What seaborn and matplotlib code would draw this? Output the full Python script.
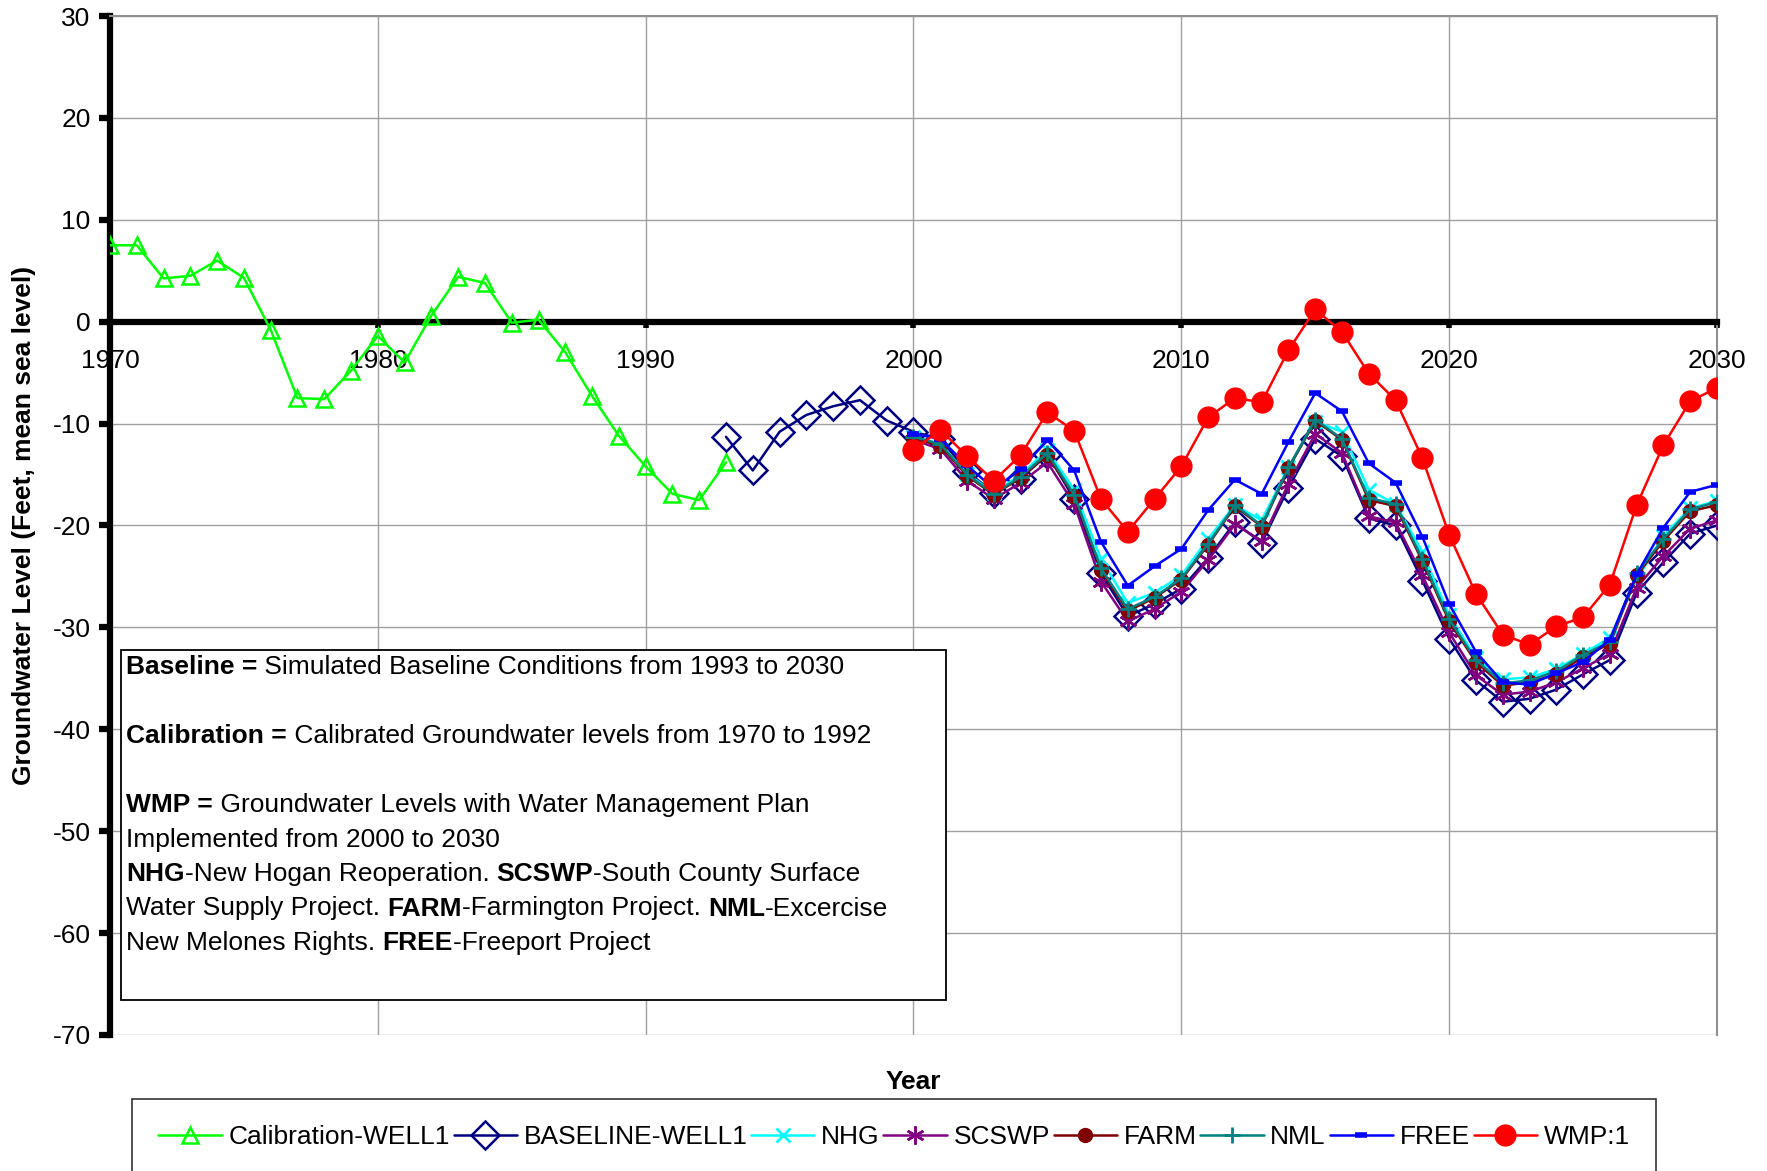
import matplotlib
matplotlib.use("Agg")
import pandas as pd
import matplotlib.pyplot as plt
import matplotlib.patches as mpatches
import seaborn as sns


# calibration period 1970-1993
cal_years = list(range(1970, 1994))
calibration = [7.5, 7.5, 4.25, 4.5, 6.0, 4.3, -0.8, -7.5, -7.6, -4.8, -1.4, -4.0,
               0.6, 4.4, 3.8, -0.1, 0.2, -3.0, -7.3, -11.2, -14.2, -16.9, -17.5, -13.8]

# simulated baseline 1993-2030
base_years = list(range(1993, 2031))
baseline = [-11.3, -14.6, -10.8, -9.15, -8.3, -7.7, -9.7, -10.8,
            -11.5, -14.7, -16.8, -15.4, -13.0, -17.4, -24.7, -28.9, -27.7, -26.2,
            -23.2, -19.7, -21.7, -16.3, -11.5, -13.2, -19.3, -20.0, -25.4, -31.1,
            -35.2, -37.3, -37.0, -36.1, -34.6, -33.2, -26.6, -23.6, -20.8, -20.0]

# project scenarios 2000-2030
sim_years = list(range(2000, 2031))
nhg = [-11.3, -12.0, -14.9, -16.8, -15.0, -12.6, -16.5, -23.3, -27.6, -26.6,
       -24.9, -21.3, -18.0, -19.5, -14.3, -9.8, -10.8, -16.5, -17.9, -22.6,
       -28.8, -33.0, -35.1, -34.9, -34.1, -32.6, -31.0, -25.3, -21.0, -18.3, -17.6]
scswp = [-11.6, -12.5, -15.6, -17.4, -15.8, -13.8, -17.9, -25.5, -29.4, -28.2,
         -26.5, -23.4, -19.9, -21.5, -15.9, -11.0, -12.9, -19.1, -19.7, -24.9,
         -30.5, -34.7, -36.6, -36.3, -35.4, -34.0, -32.6, -26.1, -23.0, -20.3, -19.5]
farm = [-11.4, -12.2, -15.1, -17.0, -15.3, -13.1, -17.1, -24.4, -28.4, -27.1,
        -25.3, -21.9, -18.1, -20.1, -14.4, -9.7, -11.6, -17.5, -18.1, -23.5,
        -29.4, -33.4, -35.7, -35.4, -34.6, -32.9, -31.6, -24.9, -21.5, -18.6, -18.0]
nml = [-11.3, -12.0, -15.0, -16.9, -15.2, -12.9, -17.0, -24.2, -28.2, -27.0,
       -25.2, -21.8, -18.0, -20.0, -14.3, -9.6, -11.5, -17.3, -17.9, -23.3,
       -29.2, -33.2, -35.5, -35.2, -34.3, -32.7, -31.4, -24.7, -21.3, -18.4, -17.7]
free = [-11.0, -11.5, -14.1, -16.4, -14.5, -11.6, -14.6, -21.6, -25.9, -24.0,
        -22.3, -18.5, -15.5, -16.9, -11.8, -7.0, -8.8, -13.9, -15.8, -21.1,
        -27.7, -32.4, -35.4, -35.6, -34.5, -33.4, -31.2, -24.8, -20.2, -16.7, -16.0]
wmp = [-12.6, -10.6, -13.2, -15.6, -13.1, -8.9, -10.7, -17.4, -20.6, -17.4,
       -14.2, -9.4, -7.5, -7.9, -2.8, 1.2, -1.0, -5.1, -7.7, -13.4,
       -20.9, -26.7, -30.7, -31.7, -29.9, -29.0, -25.8, -18.0, -12.1, -7.8, -6.5]

x_ticks = list(range(1970, 2031, 10))
y_ticks = list(range(-70, 31, 10))

sns.set_style("ticks")
plt.rcParams["font.family"] = ["Liberation Sans", "DejaVu Sans"]
plt.rcParams["axes.unicode_minus"] = False
for k in ["text.color", "axes.labelcolor", "xtick.color", "ytick.color", "axes.edgecolor"]:
    plt.rcParams[k] = "black"

W, H = 1767, 1171
fig = plt.figure(figsize=(W / 100, H / 100), dpi=100)
ax = fig.add_axes([110 / W, 1 - 1035 / H, 1607 / W, 1019 / H])

series = [
    ("Calibration-WELL1", cal_years, calibration, "#00ff00",
     dict(marker="^", markersize=11, markerfacecolor="none", markeredgewidth=1.8)),
    ("BASELINE-WELL1", base_years, baseline, "#000080",
     dict(marker="D", markersize=14, markerfacecolor="none", markeredgewidth=1.8)),
    ("NHG", sim_years, nhg, "#00ffff",
     dict(marker="x", markersize=10, markeredgewidth=2)),
    ("SCSWP", sim_years, scswp, "#800080",
     dict(marker=(6, 2, 0), markersize=13, markeredgewidth=1.8)),
    ("FARM", sim_years, farm, "#800000",
     dict(marker="o", markersize=10, markeredgewidth=1)),
    ("NML", sim_years, nml, "#008080",
     dict(marker="+", markersize=12, markeredgewidth=2)),
    ("FREE", sim_years, free, "#0000ff",
     dict(marker="_", markersize=8, markeredgewidth=4)),
    ("WMP:1", sim_years, wmp, "#ff0000",
     dict(marker="o", markersize=15, markeredgewidth=1)),
]

for i, (name, xs, ys, col, mk) in enumerate(series):
    df = pd.DataFrame({"Year": xs, "Level": ys})
    sns.lineplot(data=df, x="Year", y="Level", color=col, linewidth=1.8,
                 label=name, ax=ax, zorder=3 + i, markeredgecolor=col, **mk)

ax.set_xlim(1970, 2030)
ax.set_ylim(-70, 30)
ax.set_xticks(x_ticks)
ax.set_yticks(y_ticks)
ax.grid(True, color="#a0a0a0", linewidth=1.0)
ax.set_axisbelow(True)

ax.spines["bottom"].set_position(("data", 0))
ax.spines["bottom"].set_linewidth(4.5)
ax.spines["bottom"].set_color("black")
ax.spines["left"].set_linewidth(4.5)
ax.spines["left"].set_color("black")
for s in ["top", "right"]:
    ax.spines[s].set_visible(True)
    ax.spines[s].set_color("#909090")
    ax.spines[s].set_linewidth(1.5)

ax.tick_params(axis="x", direction="out", length=4, width=4, pad=16, labelsize=19)
ax.tick_params(axis="y", direction="out", length=8, width=4.5, pad=6, labelsize=19)

ax.set_xlabel("Year", fontsize=19, fontweight="bold")
ax.xaxis.set_label_coords(0.5, -0.034)
ax.set_ylabel("Groundwater Level (Feet, mean sea level)", fontsize=19, fontweight="bold")
ax.yaxis.set_label_coords(-0.046, 0.5)

# note box
box = mpatches.Rectangle((121 / W, 1 - 1000 / H), 825 / W, 350 / H,
                         transform=fig.transFigure, facecolor="white",
                         edgecolor="black", linewidth=1.3, zorder=20, clip_on=False)
ax.add_patch(box)


def rich_line(y_px, parts):
    bold = "bold" if parts[0][1] else "normal"
    t = ax.text(126 / W, 1 - y_px / H, parts[0][0], transform=fig.transFigure,
                fontsize=19, fontweight=bold, va="center", ha="left", zorder=21)
    for s, b in parts[1:]:
        t = ax.annotate(s, xy=(1, 0.5), xycoords=t, va="center", ha="left",
                        fontsize=19, fontweight="bold" if b else "normal", zorder=21)


rich_line(667, [("Baseline =", True), (" Simulated Baseline Conditions from 1993 to 2030", False)])
rich_line(736, [("Calibration =", True), (" Calibrated Groundwater levels from 1970 to 1992", False)])
rich_line(805, [("WMP =", True), (" Groundwater Levels with Water Management Plan", False)])
rich_line(839.5, [("Implemented from 2000 to 2030", False)])
rich_line(874, [("NHG", True), ("-New Hogan Reoperation. ", False), ("SCSWP", True),
                ("-South County Surface", False)])
rich_line(908.5, [("Water Supply Project. ", False), ("FARM", True),
                  ("-Farmington Project. ", False), ("NML", True), ("-Excercise", False)])
rich_line(943, [("New Melones Rights. ", False), ("FREE", True), ("-Freeport Project", False)])

handles, labels = ax.get_legend_handles_labels()
if ax.get_legend() is not None:
    ax.get_legend().remove()
leg = fig.legend(handles, labels, loc="upper left",
                 bbox_to_anchor=(132 / W, 1 - 1099 / H - 0.2, 1524 / W, 0.2),
                 mode="expand", ncol=8, fontsize=19, frameon=True, fancybox=False,
                 edgecolor="black", borderaxespad=0, borderpad=1.0,
                 handlelength=2.4, handletextpad=0.25, columnspacing=0.4)
leg.get_frame().set_linewidth(1.2)

fig.savefig("out.png", dpi=100)
